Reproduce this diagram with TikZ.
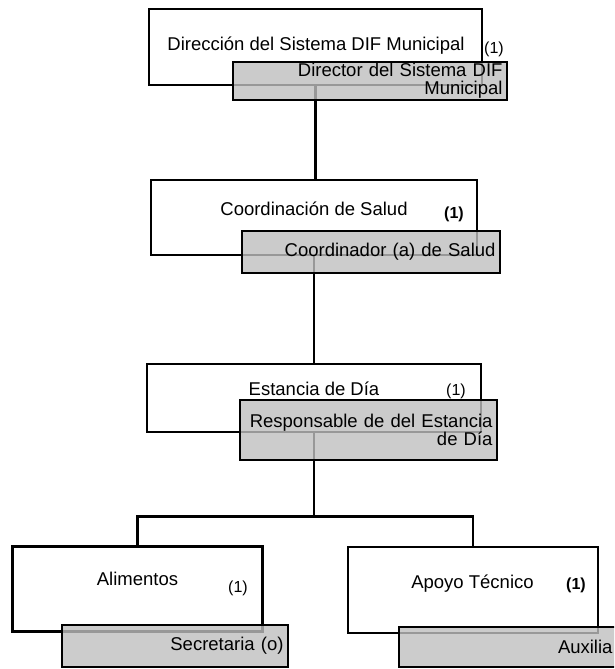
\documentclass[tikz,border=0pt]{standalone}
\usepackage{fontspec}
\setmainfont{Liberation Sans}

\begin{document}
\begin{tikzpicture}[x=1pt, y=-1pt, line width=2.7pt,
  unit/.style={draw, rectangle, fill=white, inner sep=0pt},
  post/.style={draw, rectangle, fill=black!25, fill opacity=.8, text opacity=1,
    inner xsep=4.5pt, inner ysep=0pt, align=right, font=\fontsize{18.5}{18}\selectfont},
  title/.style={anchor=base, inner sep=0pt, font=\fontsize{18.5}{18}\selectfont},
  count/.style={anchor=base, inner sep=0pt, font=\fontsize{16}{16}\selectfont}]
  \useasboundingbox (0,0) rectangle (614,669);
  \clip (0,0) rectangle (614,669);

  % Units
  \node[unit, minimum width=333pt, minimum height=76pt] (dir) at (315.5,47) {};
  \node[unit, minimum width=326pt, minimum height=75pt] (coord) at (314,217.5) {};
  \node[unit, minimum width=334pt, minimum height=68pt] (est) at (314,398) {};
  \node[unit, minimum width=250pt, minimum height=85pt] (ali) at (137.5,589) {};
  \node[unit, minimum width=250pt, minimum height=86pt] (apo) at (473,590) {};

  % Titles
  \node[title] (dirT) at (316,51) {Dirección del Sistema DIF Municipal};
  \node[count] (dirN) at (494,53) {(1)};
  \node[title] (coordT) at (314,215) {Coordinación de Salud};
  \node[count] (coordN) at (454,218) {\bfseries (1)};
  \node[title] (estT) at (314,395) {Estancia de Día};
  \node[count] (estN) at (456,395) {(1)};
  \node[title] (aliT) at (137.5,585) {Alimentos};
  \node[count] (aliN) at (238,592) {(1)};
  \node[title] (apoT) at (472.5,588) {Apoyo Técnico};
  \node[count] (apoN) at (576,589) {\bfseries (1)};

  % Connections
  \draw (dir.south) -- (dir.south |- coord.north);
  \draw (coord.south) -- (coord.south |- est.north);
  \draw (est.south) -- ++(0,83) coordinate (split);
  \draw (ali.north) |- (split) -| (apo.north);

  % Posts
  \node[post, text width=265pt, minimum height=38pt] (dirP) at (370,81)
    {Director del Sistema DIF\\Municipal};
  \node[post, text width=249pt, minimum height=42pt] (coordP) at (371,252)
    {Coordinador (a) de Salud};
  \node[post, text width=248pt, minimum height=60pt] (estP) at (368.5,430)
    {Responsable de del Estancia\\de Día};
  \node[post, text width=217pt, minimum height=42pt] (aliP) at (175,646)
    {Secretaria (o)};
  \node[post, text width=209pt, minimum height=40pt] (apoP) at (508,647)
    {Auxilia};
\end{tikzpicture}
\end{document}
